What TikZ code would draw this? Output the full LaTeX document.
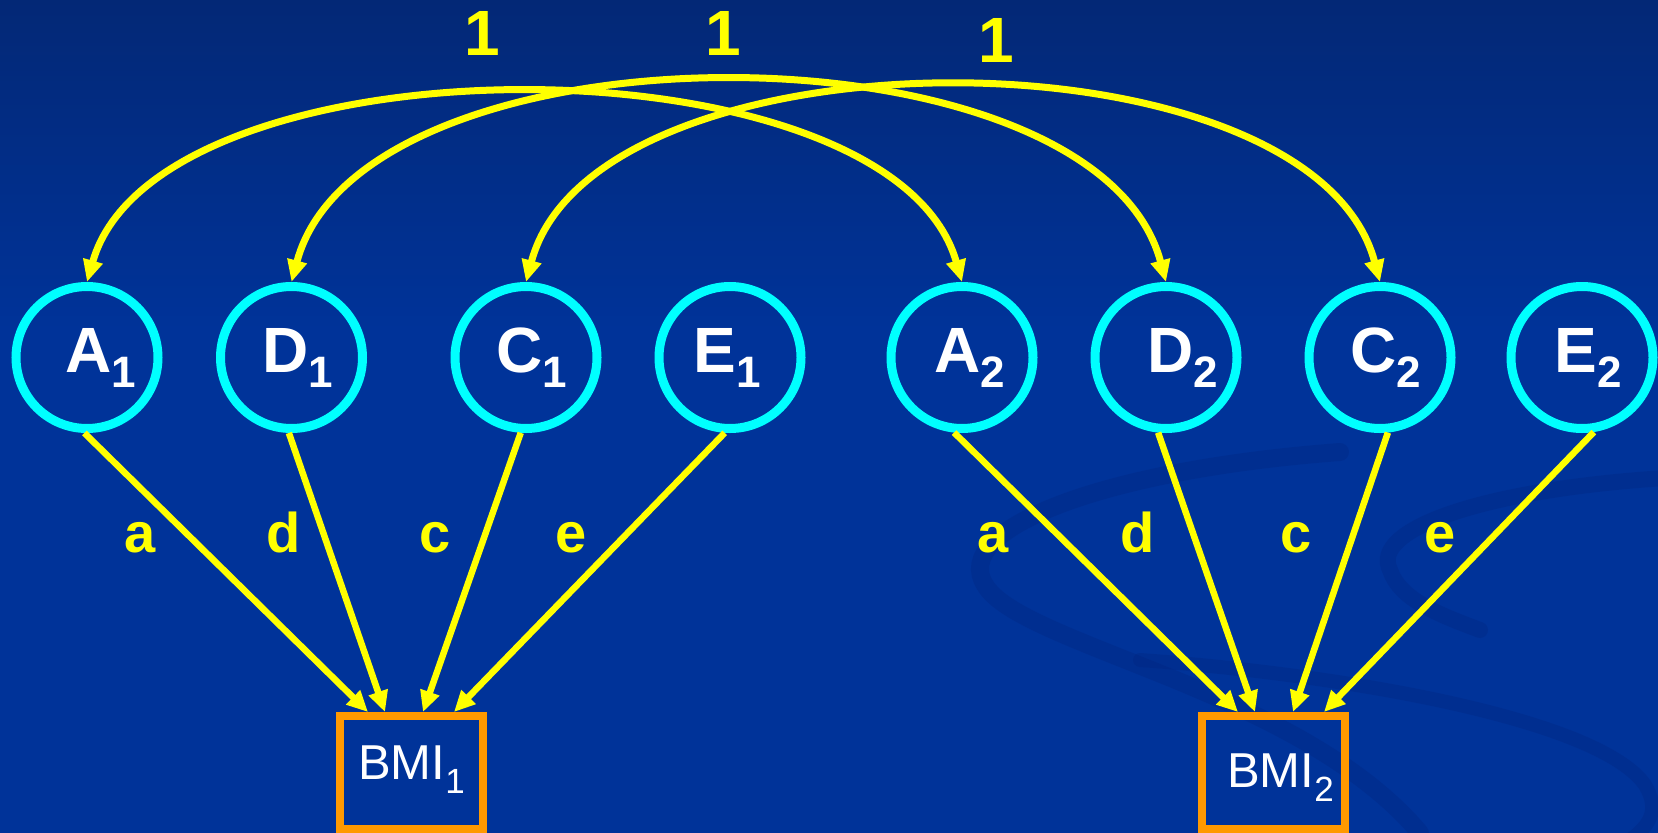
\documentclass[tikz,border=0pt]{standalone}
\usepackage{fontspec}
\setmainfont{Liberation Sans}
\usetikzlibrary{arrows.meta,calc}

\definecolor{bgtop}{RGB}{3,40,118}
\definecolor{bgmain}{RGB}{0,51,153}
\definecolor{swirlblue}{RGB}{0,36,125}
\definecolor{ringcyan}{RGB}{0,255,255}
\definecolor{pathyellow}{RGB}{255,255,0}
\definecolor{boxorange}{RGB}{255,153,0}

% latent label: letter, subscript, horizontal offset of the label
\newcommand\latlabel[3]{\hspace{#3}#1\raisebox{-15pt}{\fontsize{44}{44}\selectfont #2}}
\newcommand\obssub[1]{\raisebox{-14pt}{\fontsize{35}{35}\selectfont #1}}

\begin{document}
\begin{tikzpicture}[x=1pt,y=-1pt,
  latent/.style={circle,draw=ringcyan,line width=9pt,minimum size=142pt,
    inner sep=0pt,text=white,font=\fontsize{64}{64}\selectfont\bfseries},
  observed/.style={rectangle,draw=boxorange,line width=8pt,
    minimum width=143pt,minimum height=113pt,inner sep=0pt},
  obstext/.style={text=white,font=\fontsize{49}{49}\selectfont,
    anchor=base west,inner sep=0pt},
  coef/.style={text=pathyellow,font=\fontsize{56}{56}\selectfont\bfseries,
    anchor=base,inner sep=0pt},
  varfix/.style={text=pathyellow,font=\fontsize{64}{64}\selectfont\bfseries,
    anchor=base,inner sep=0pt},
  loading/.style={draw=pathyellow,line width=6.5pt,
    -{Triangle[length=21pt,width=19pt]}},
  corrarc/.style={draw=pathyellow,line width=7pt,
    {Triangle[length=22pt,width=19pt]}-{Triangle[length=22pt,width=19pt]}},
  swirlband/.style={draw=swirlblue,draw opacity=0.3,line cap=round},
]
\useasboundingbox (0,0) rectangle (1658,833);

% background
\fill[bgmain] (0,0) rectangle (1658,833);
\shade[top color=bgtop,bottom color=bgmain] (0,0) rectangle (1658,330);
\draw[swirlband,line width=18pt] (1340,452) .. controls (1100,470) and (950,530) .. (985,585)
  .. controls (1020,645) and (1300,690) .. (1420,833);
\draw[swirlband,line width=16pt] (1665,478) .. controls (1480,490) and (1370,530) .. (1390,570)
  .. controls (1400,600) and (1440,615) .. (1480,630);
\draw[swirlband,line width=14pt] (1140,660) .. controls (1350,675) and (1600,720) .. (1645,785)
  .. controls (1660,810) and (1650,825) .. (1630,840);

% latent factors, twin 1 and twin 2
\node[latent] (A1) at (87,357.5)   {\latlabel{A}{1}{27pt}};
\node[latent] (D1) at (291.5,357.5){\latlabel{D}{1}{12pt}};
\node[latent] (C1) at (526,357.5)  {\latlabel{C}{1}{12pt}};
\node[latent] (E1) at (730,357.5)  {\latlabel{E}{1}{-5pt}};
\node[latent] (A2) at (962,357.5)  {\latlabel{A}{2}{16pt}};
\node[latent] (D2) at (1166,357.5) {\latlabel{D}{2}{33pt}};
\node[latent] (C2) at (1380,357.5) {\latlabel{C}{2}{12pt}};
\node[latent] (E2) at (1582,357.5) {\latlabel{E}{2}{12pt}};

% observed phenotypes
\node[observed] (B1) at (411.5,772.5) {};
\node[observed] (B2) at (1273.5,772.5) {};
\node[obstext] (B1t) at (358,779) {BMI\obssub{1}};
\node[obstext] (B2t) at (1227,787) {BMI\obssub{2}};

% correlations between twins
\draw[corrarc] (A1.north) .. controls ($(A1.north)+(71,-250)$) and ($(A2.north)+(-71,-250)$) .. (A2.north);
\draw[corrarc] (D1.north) .. controls ($(D1.north)+(71,-266)$) and ($(D2.north)+(-71,-266)$) .. (D2.north);
\draw[corrarc] (C1.north) .. controls ($(C1.north)+(69,-259)$) and ($(C2.north)+(-69,-259)$) .. (C2.north);
\node[varfix] (r1) at (482,55) {1};
\node[varfix] (r2) at (723,55) {1};
\node[varfix] (r3) at (996,62) {1};

% path loadings
\draw[loading] (A1.268) -- ([xshift=32pt]B1.north west);
\draw[loading] (D1.268) -- ([xshift=49pt]B1.north west);
\draw[loading] (C1.266) -- ([xshift=87pt]B1.north west);
\draw[loading] (E1.266) -- ([xshift=118pt]B1.north west);
\draw[loading] (A2.264) -- ([xshift=40pt]B2.north west);
\draw[loading] (D2.264) -- ([xshift=57pt]B2.north west);
\draw[loading] (C2.276) -- ([xshift=95pt]B2.north west);
\draw[loading] (E2.279) -- ([xshift=126pt]B2.north west);

\node[coef] (la1) at (140,552) {a};
\node[coef] (ld1) at (284,552) {d};
\node[coef] (lc1) at (435,552) {c};
\node[coef] (le1) at (571,552) {e};
\node[coef] (la2) at (993,552) {a};
\node[coef] (ld2) at (1138,552) {d};
\node[coef] (lc2) at (1296,552) {c};
\node[coef] (le2) at (1440,552) {e};
\end{tikzpicture}
\end{document}
